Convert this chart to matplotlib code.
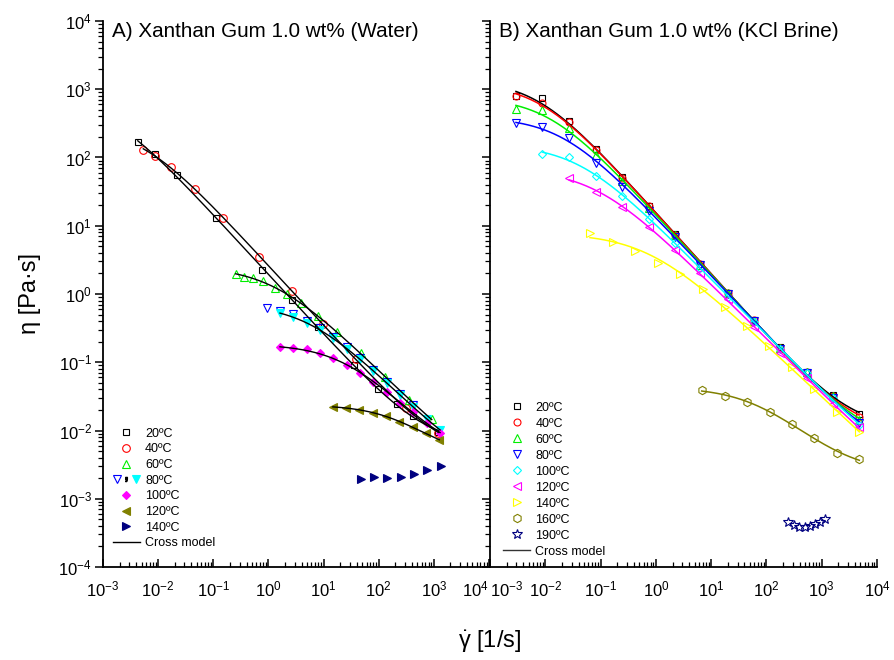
import numpy as np
import matplotlib
matplotlib.use("Agg")
import matplotlib.pyplot as plt
from matplotlib.lines import Line2D
from matplotlib.legend_handler import HandlerTuple
from matplotlib.ticker import FixedLocator, LogLocator, NullFormatter, LogFormatterSciNotation

# ---- A) Xanthan gum 1.0 wt% in water: shear rate [1/s], viscosity [Pa s]
w20_x = [0.00427, 0.00877, 0.0223, 0.111, 0.755, 2.64, 7.93, 35.6, 98.4, 212, 414, 1205]
w20_y = [168.7, 111.4, 54.8, 12.85, 2.25, 0.830, 0.329, 0.0902, 0.0402, 0.0244, 0.0163, 0.0096]
w40_x = [0.00538, 0.00877, 0.0169, 0.0467, 0.148, 0.684, 2.64, 9.89, 38.7, 313, 1202]
w40_y = [128.8, 105.2, 73.3, 34.2, 13.1, 3.52, 1.117, 0.363, 0.1117, 0.0211, 0.00933]
w60_x = [0.255, 0.366, 0.525, 0.782, 1.29, 2.17, 3.90, 8.04, 17.7, 47.8, 130, 359, 914]
w60_y = [1.945, 1.795, 1.698, 1.552, 1.213, 0.984, 0.731, 0.476, 0.281, 0.1355, 0.0615, 0.0280, 0.0146]
w80a_x = [0.931, 1.62, 2.82, 4.94, 8.61, 15.0, 26.3, 45.8, 79.8, 140, 243, 424]
w80a_y = [0.617, 0.573, 0.501, 0.402, 0.313, 0.234, 0.167, 0.1153, 0.0782, 0.0522, 0.0348, 0.0237]
w80b_x = [1.62, 2.82, 4.94, 8.61, 15.0, 26.3, 45.8, 79.8, 140, 243, 424, 743, 1294]
w80b_y = [0.527, 0.460, 0.370, 0.292, 0.223, 0.159, 0.1117, 0.0745, 0.0497, 0.0331, 0.0221, 0.0147, 0.0102]
w100_x = w80b_x
w100_y = [0.1656, 0.160, 0.155, 0.1352, 0.1143, 0.0902, 0.0689, 0.0519, 0.0370, 0.0251, 0.0189, 0.0127, 0.00929]
w120_x = [14.7, 25.5, 44.5, 77.8, 136, 237, 414, 721, 1256]
w120_y = [0.0219, 0.0216, 0.0200, 0.0182, 0.0163, 0.01346, 0.01114, 0.00910, 0.00726]
w140_x = [47.2, 82.2, 143, 251, 437, 760, 1330]
w140_y = [0.00193, 0.00210, 0.00200, 0.00206, 0.00231, 0.00264, 0.00302]

# ---- B) Xanthan gum 1.0 wt% in KCl brine
b_x = [0.00295, 0.00883, 0.0269, 0.0817, 0.247, 0.752, 2.22, 6.28, 19.9, 60.3, 176, 535, 1578, 4721]
b20_y = [805, 752, 343, 133, 51.3, 19.7, 7.50, 2.75, 1.045, 0.416, 0.1656, 0.0726, 0.0331, 0.0175]
b40_y = [794, 622, 331, 129, 50.1, 19.5, 7.41, 2.75, 1.047, 0.417, 0.162, 0.0708, 0.0316, 0.0160]
b60_y = [508, 490, 275, 110, 44.7, 18.2, 7.24, 2.69, 1.023, 0.407, 0.162, 0.0708, 0.0316, 0.0143]
b80_y = [316, 282, 191, 83.2, 37.2, 16.6, 6.92, 2.63, 1.00, 0.398, 0.158, 0.0692, 0.0302, 0.0130]
b100_x = b_x[1:]
b100_y = [112, 100, 53.7, 27.5, 12.6, 5.62, 2.40, 0.912, 0.389, 0.158, 0.0692, 0.0302, 0.0120]
b120_x = b_x[2:]
b120_y = [49.5, 31.6, 19.0, 9.68, 4.42, 2.01, 0.836, 0.325, 0.1352, 0.0582, 0.0244, 0.01114]
b140_x = [0.0644, 0.166, 0.420, 1.107, 2.73, 7.03, 17.8, 43.9, 113, 286, 724, 1866, 4786]
b140_y = [7.74, 5.73, 4.31, 2.88, 1.963, 1.172, 0.638, 0.340, 0.173, 0.0843, 0.0402, 0.0189, 0.0096]
b160_x = [6.75, 17.8, 45.1, 116, 286, 735, 1910, 4786]
b160_y = [0.0392, 0.0324, 0.0259, 0.0188, 0.01245, 0.00769, 0.00473, 0.00378]
b190_x = [248, 315, 393, 492, 614, 766, 942, 1146]
b190_y = [0.000461, 0.000412, 0.000390, 0.000390, 0.000403, 0.000427, 0.000461, 0.000505]

plt.rcParams["font.family"] = ["Liberation Sans", "DejaVu Sans"]
plt.rcParams["mathtext.default"] = "regular"


def cross_fit(x, y):
    # Cross model eta = eta_inf + (eta0 - eta_inf) / (1 + (lam*g)^m), grid search on lam, m
    x = np.asarray(x, float)
    y = np.asarray(y, float)
    lam = 10 ** np.linspace(-3, 5, 161)[:, None, None]
    m = np.linspace(0.3, 1.4, 56)[None, :, None]
    F = 1.0 / (1.0 + (lam * x) ** m)
    u, v = F / y, 1.0 / y
    suu, suv, su = (u * u).sum(-1), (u * v).sum(-1), u.sum(-1)
    svv, sv = (v * v).sum(), v.sum()
    with np.errstate(all="ignore"):
        det = suu * svv - suv ** 2
        a = (su * svv - sv * suv) / det
        b = (suu * sv - suv * su) / det
        neg = b < 0
        a = np.where(neg, su / suu, a)
        b = np.where(neg, 0.0, b)
        pred = a[..., None] * F + b[..., None]
        err = (np.log(np.clip(pred, 1e-30, None) / y) ** 2).sum(-1)
    err[~np.isfinite(err)] = np.inf
    i, j = np.unravel_index(np.argmin(err), err.shape)
    eta_inf = b[i, j]
    eta0 = a[i, j] + eta_inf
    lam_b, m_b = lam.ravel()[i], m.ravel()[j]
    g = np.logspace(np.log10(x.min()), np.log10(x.max()), 200)
    return g, eta_inf + (eta0 - eta_inf) / (1 + (lam_b * g) ** m_b)


fig = plt.figure(figsize=(8.95, 6.6), dpi=100)
axA = fig.add_axes([0.1151, 0.1409, 0.4313, 0.8273])
axB = fig.add_axes([0.5475, 0.1409, 0.4324, 0.8273])

ms, mew = 5, 0.8
leg_kw = dict(loc="upper left", frameon=False, fontsize=9, handlelength=2.2,
              handletextpad=0.4, borderpad=0, borderaxespad=0)

# panel A
for xs, ys in [(w20_x, w20_y), (w40_x, w40_y), (w60_x, w60_y), (w80b_x, w80b_y),
               (w100_x, w100_y), (w120_x, w120_y)]:
    g, eta = cross_fit(xs, ys)
    axA.plot(g, eta, color="black", lw=1.0, zorder=3)

hA = [
    axA.plot(w20_x, w20_y, "s", mfc="none", mec="black", ms=ms, mew=mew)[0],
    axA.plot(w40_x, w40_y, "o", mfc="none", mec="red", ms=ms + 0.5, mew=mew)[0],
    axA.plot(w60_x, w60_y, "^", mfc="none", mec="#00ee00", ms=ms + 1, mew=mew)[0],
    axA.plot(w80a_x, w80a_y, "v", mfc="none", mec="blue", ms=ms + 1, mew=mew)[0],
    axA.plot(w80b_x, w80b_y, "v", color="cyan", ms=ms + 1, mew=mew)[0],
    axA.plot(w100_x, w100_y, "D", color="magenta", ms=ms - 0.5, mew=mew)[0],
    axA.plot(w120_x, w120_y, "<", color="#808000", ms=ms + 1, mew=mew)[0],
    axA.plot(w140_x, w140_y, ">", color="#000080", ms=ms + 1, mew=mew)[0],
]
comma = Line2D([], [], ls="none", marker="$,$", color="black", ms=3)
cross_line = Line2D([], [], color="black", lw=1.0)
axA.legend(
    [hA[0], hA[1], hA[2], (hA[3], comma, hA[4]), hA[5], hA[6], hA[7], cross_line],
    ["20ºC", "40ºC", "60ºC", "80ºC", "100ºC", "120ºC", "140ºC", "Cross model"],
    handler_map={tuple: HandlerTuple(ndivide=None, pad=0.1)},
    bbox_to_anchor=(0.025, 0.255), labelspacing=0.29, **leg_kw,
)

# panel B
b_series = [
    (b_x, b20_y, "s", "black", "20ºC"),
    (b_x, b40_y, "o", "red", "40ºC"),
    (b_x, b60_y, "^", "#00ee00", "60ºC"),
    (b_x, b80_y, "v", "blue", "80ºC"),
    (b100_x, b100_y, "D", "cyan", "100ºC"),
    (b120_x, b120_y, "<", "magenta", "120ºC"),
    (b140_x, b140_y, ">", "yellow", "140ºC"),
    (b160_x, b160_y, "h", "#808000", "160ºC"),
]
hB = []
for xs, ys, mk, col, lab in b_series:
    g, eta = cross_fit(xs, ys)
    axB.plot(g, eta, color=col, lw=1.1, zorder=3)
    size = ms - 0.5 if mk == "D" else (ms + 1 if mk in "^v<>h" else ms)
    hB.append(axB.plot(xs, ys, mk, mfc="none", mec=col, ms=size, mew=mew, label=lab)[0])
hB.append(axB.plot(b190_x, b190_y, "*", mfc="none", mec="#000080", ms=ms + 2, mew=mew,
                   label="190ºC")[0])
hB.append(Line2D([], [], color="#333333", lw=1.0))
axB.legend(
    hB, [h.get_label() for h in hB[:-1]] + ["Cross model"],
    bbox_to_anchor=(0.033, 0.303), labelspacing=0.32, **leg_kw,
)

titles = ["A) Xanthan Gum 1.0 wt% (Water)", "B) Xanthan Gum 1.0 wt% (KCl Brine)"]
for ax, title in zip((axA, axB), titles):
    ax.set_xscale("log")
    ax.set_yscale("log")
    ax.set_xlim(1e-3, 1e4)
    ax.set_ylim(1e-4, 1e4)
    ax.spines["top"].set_visible(False)
    ax.spines["right"].set_visible(False)
    for s in ("left", "bottom"):
        ax.spines[s].set_linewidth(1.3)
    ax.xaxis.set_major_locator(FixedLocator(10.0 ** np.arange(-3, 5)))
    ax.yaxis.set_major_locator(FixedLocator(10.0 ** np.arange(-4, 5)))
    ax.xaxis.set_major_formatter(LogFormatterSciNotation())
    ax.yaxis.set_major_formatter(LogFormatterSciNotation())
    for axis in (ax.xaxis, ax.yaxis):
        axis.set_minor_locator(LogLocator(base=10, subs=np.arange(2, 10), numticks=20))
        axis.set_minor_formatter(NullFormatter())
    ax.tick_params(axis="y", which="major", direction="out", length=6, width=1.1, labelsize=12, pad=2)
    ax.tick_params(axis="y", which="minor", direction="out", length=3.5, width=0.9)
    ax.tick_params(axis="x", which="major", direction="in", length=6, width=1.1, labelsize=12, pad=9)
    ax.tick_params(axis="x", which="minor", direction="in", length=3.5, width=0.9)
    ax.text(0.022, 0.981, title, transform=ax.transAxes, ha="left", va="center", fontsize=14.9)

axB.tick_params(axis="y", labelleft=False)

fig.canvas.draw()
axA.get_xticklabels()[-1].set_horizontalalignment("right")
axB.get_xticklabels()[0].set_horizontalalignment("left")

fig.text(0.034, 0.555, "η [Pa·s]", rotation=90, ha="center", va="center", fontsize=17)
fig.text(0.5475, 0.027, r"$\dot{\gamma}$ [1/s]", ha="center", va="center", fontsize=17)

fig.savefig("out.png", dpi=100)
